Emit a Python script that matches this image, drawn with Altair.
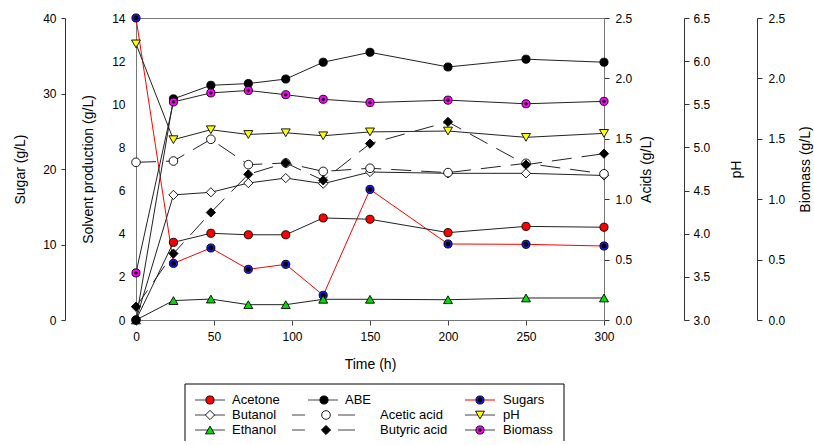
import altair as alt
import pandas as pd

# ---------------- data ----------------
times = [0, 24, 48, 72, 96, 120, 150, 200, 250, 300]

acetone = [0.0, 3.60, 4.02, 3.95, 3.95, 4.73, 4.67, 4.05, 4.34, 4.30]
butanol = [0.0, 5.80, 5.92, 6.35, 6.58, 6.32, 6.86, 6.80, 6.80, 6.70]
ethanol = [0.0, 0.90, 0.97, 0.71, 0.71, 0.96, 0.96, 0.94, 1.02, 1.02]
abe = [0.0, 10.25, 10.88, 10.96, 11.17, 11.95, 12.41, 11.73, 12.09, 11.95]

acetic_acid = [1.305, 1.316, 1.496, 1.286, 1.30, 1.23, 1.256, 1.22, 1.297, 1.21]
butyric_acid = [0.11, 0.55, 0.89, 1.206, 1.30, 1.156, 1.46, 1.64, 1.286, 1.377]

sugars = [40.0, 7.5, 9.54, 6.71, 7.37, 3.27, 17.3, 10.07, 10.02, 9.8]
ph = [6.20, 5.09, 5.205, 5.15, 5.17, 5.135, 5.18, 5.19, 5.117, 5.163]
biomass = [0.39, 1.805, 1.88, 1.90, 1.865, 1.827, 1.80, 1.82, 1.79, 1.81]

series_values = {
    "Acetone": acetone,
    "Butanol": butanol,
    "Ethanol": ethanol,
    "ABE": abe,
    "Acetic acid": acetic_acid,
    "Butyric acid": butyric_acid,
    "Sugars": sugars,
    "pH": ph,
    "Biomass": biomass,
}

rows = []
for name, vals in series_values.items():
    for t, v in zip(times, vals):
        rows.append({"time": t, "series": name, "value": v})
df = pd.DataFrame(rows)

# ---------------- styles ----------------
FONT = "Liberation Sans"
PAD_L, PAD_T = 13, 11
PLOT_W, PLOT_H = 468, 302
ORIGIN_X = 134  # page x of the plot area's left edge (legend is aligned to it)

style = {
    "Acetone": dict(shape="circle", fill="#ff0000", size=66),
    "Butanol": dict(shape="diamond", fill="#ffffff", size=85),
    "Ethanol": dict(shape="triangle-up", fill="#00dd00", size=80),
    "ABE": dict(shape="circle", fill="#000000", size=66),
    "Acetic acid": dict(shape="circle", fill="#ffffff", size=75),
    "Butyric acid": dict(shape="diamond", fill="#000000", size=85),
    "Sugars": dict(shape="circle", fill="#1a1aff", size=66),
    "pH": dict(shape="triangle-down", fill="#ffff00", size=80),
    "Biomass": dict(shape="circle", fill="#ff00ff", size=66),
}
inner_dot = {"Sugars": 20, "Biomass": 8}
line_color = {"Sugars": "#ff0000"}
dashed = {"Acetic acid", "Butyric acid"}

x_enc = alt.X(
    "time:Q",
    scale=alt.Scale(domain=[0, 300], nice=False, zero=False),
    axis=alt.Axis(values=[0, 50, 100, 150, 200, 250, 300], title="Time (h)",
                  tickSize=5, labelPadding=6, titlePadding=15, labelFlush=False,
                  domainColor="#777", tickColor="#444"),
)


def group(series_list, y_enc):
    lines, points = [], []
    for s in series_list:
        base = alt.Chart(df).transform_filter(alt.datum.series == s)
        kw = dict(color=line_color.get(s, "#222222"), strokeWidth=1)
        if s in dashed:
            kw["strokeDash"] = [20, 10]
        lines.append(base.mark_line(**kw).encode(x=x_enc, y=y_enc))
        st = style[s]
        points.append(base.mark_point(shape=st["shape"], size=st["size"], filled=True,
                                      fill=st["fill"], stroke="#000000", strokeWidth=0.9,
                                      opacity=1).encode(x=x_enc, y=y_enc))
        if s in inner_dot:
            points.append(base.mark_point(shape="circle", size=inner_dot[s], filled=True,
                                          fill="#000000", stroke="#000000", strokeWidth=0.5,
                                          opacity=1).encode(x=x_enc, y=y_enc))
    return alt.layer(*lines, *points)


y_solvent = alt.Y("value:Q", scale=alt.Scale(domain=[0, 14], nice=False),
                  axis=alt.Axis(orient="left", values=[0, 2, 4, 6, 8, 10, 12, 14],
                                title="Solvent production (g/L)", ticks=False, tickSize=0,
                                labelPadding=11, titlePadding=16, domainColor="#777"))
y_sugar = alt.Y("value:Q", scale=alt.Scale(domain=[0, 40], nice=False),
                axis=alt.Axis(orient="left", offset=71, values=[0, 10, 20, 30, 40],
                              title="Sugar (g/L)", tickSize=4, labelPadding=5, titlePadding=15))
y_acids = alt.Y("value:Q", scale=alt.Scale(domain=[0, 2.5], nice=False),
                axis=alt.Axis(orient="right", values=[0, 0.5, 1, 1.5, 2, 2.5], format=".1f",
                              title="Acids (g/L)", tickSize=5, labelPadding=6, titlePadding=8,
                              titleAngle=270, titleBaseline="top", domainColor="#777"))
y_ph = alt.Y("value:Q", scale=alt.Scale(domain=[3, 6.5], nice=False, zero=False),
             axis=alt.Axis(orient="right", offset=80, values=[3, 3.5, 4, 4.5, 5, 5.5, 6, 6.5],
                           format=".1f", title="pH", tickSize=5, labelPadding=4,
                           titlePadding=20, titleAngle=270, titleBaseline="top"))
y_bio = alt.Y("value:Q", scale=alt.Scale(domain=[0, 2.5], nice=False),
              axis=alt.Axis(orient="right", offset=153, values=[0, 0.5, 1, 1.5, 2, 2.5],
                            format=".1f", title="Biomass (g/L)", tickSize=5, labelPadding=6,
                            titlePadding=14, titleAngle=270, titleBaseline="top"))

main = alt.layer(
    group(["Sugars"], y_sugar),
    group(["Acetone", "Butanol", "Ethanol", "ABE"], y_solvent),
    group(["Acetic acid", "Butyric acid"], y_acids),
    group(["pH"], y_ph),
    group(["Biomass"], y_bio),
).resolve_scale(y="independent").properties(
    width=PLOT_W, height=PLOT_H, view=alt.ViewBackground(stroke="#777", strokeWidth=1)
)

# ---------------- legend (layout in page pixels, converted to local) ----------------
LEG_W, LEG_H = 440, 57
BOX_X0, BOX_X1 = 183, 562
leg_series = ["Acetone", "Butanol", "Ethanol", "ABE", "Acetic acid", "Butyric acid",
              "Sugars", "pH", "Biomass"]
leg_labels = ["Acetone", "Butanol", "Ethanol", "ABE", "Acetic acid", "Butyric acid",
              "Sugars", " pH", "Biomass"]
row_y = [16, 31, 46]
col_line = [(193, 223), (306, 336), (463, 493)]
col_marker = [208, 322, 478]
col_text = [230, 343, 501]
acid_segs = [(290, 303), (336, 353)]
acid_marker, acid_text = 324, 378

seg_rows, mark_rows, text_rows = [], [], []
for i, s in enumerate(leg_series):
    r, c = i % 3, i // 3
    y = row_y[r]
    if s in dashed:
        segs, mx, tx = acid_segs, acid_marker, acid_text
    else:
        segs, mx, tx = [col_line[c]], col_marker[c], col_text[c]
    for a, b in segs:
        seg_rows.append({"x": a - ORIGIN_X, "x2": b - ORIGIN_X, "y": y,
                         "color": line_color.get(s, "#444444")})
    mark_rows.append({"x": mx - ORIGIN_X, "y": y, "series": s})
    text_rows.append({"x": tx - ORIGIN_X, "y": y, "label": leg_labels[i]})

box_rows = [
    {"x": BOX_X0 - ORIGIN_X, "x2": BOX_X1 - ORIGIN_X, "y": 0, "y2": 0},
    {"x": BOX_X0 - ORIGIN_X, "x2": BOX_X0 - ORIGIN_X, "y": 0, "y2": LEG_H},
    {"x": BOX_X1 - ORIGIN_X, "x2": BOX_X1 - ORIGIN_X, "y": 0, "y2": LEG_H},
]

lx = alt.X("x:Q", scale=alt.Scale(domain=[0, LEG_W], nice=False), axis=None)
ly = alt.Y("y:Q", scale=alt.Scale(domain=[0, LEG_H], nice=False, reverse=True), axis=None)

seg_df = pd.DataFrame(seg_rows)
mark_df = pd.DataFrame(mark_rows)
text_df = pd.DataFrame(text_rows)
box_df = pd.DataFrame(box_rows)

leg_layers = [
    alt.Chart(box_df).mark_rule(color="#000000", strokeWidth=1).encode(
        x=lx, x2="x2:Q", y=ly, y2="y2:Q"),
    alt.Chart(seg_df).mark_rule(strokeWidth=1).encode(
        x=lx, x2="x2:Q", y=ly, color=alt.Color("color:N", scale=None)),
]
for s in leg_series:
    st = style[s]
    sub = alt.Chart(mark_df).transform_filter(alt.datum.series == s)
    leg_layers.append(sub.mark_point(shape=st["shape"], size=st["size"], filled=True,
                                     fill=st["fill"], stroke="#000000", strokeWidth=0.9,
                                     opacity=1).encode(x=lx, y=ly))
    if s in inner_dot:
        leg_layers.append(sub.mark_point(shape="circle", size=inner_dot[s], filled=True,
                                         fill="#000000", stroke="#000000", strokeWidth=0.5,
                                         opacity=1).encode(x=lx, y=ly))
leg_layers.append(alt.Chart(text_df).mark_text(align="left", baseline="middle", font=FONT,
                                               fontSize=13, color="#000000").encode(
    x=lx, y=ly, text="label:N"))

legend = alt.layer(*leg_layers).properties(
    width=LEG_W, height=LEG_H, view=alt.ViewBackground(stroke=None)
)

chart = alt.vconcat(main, legend, spacing=11).properties(
    padding={"left": PAD_L, "top": PAD_T, "right": 0, "bottom": 0}
).configure_axis(
    labelFont=FONT, titleFont=FONT, labelFontSize=12, titleFontSize=14,
    titleFontWeight="normal", labelColor="#000000", titleColor="#000000",
    domainColor="#333333", tickColor="#333333", grid=False,
).configure_view(stroke=None)

chart.save("out.html", embed_options={"renderer": "svg", "actions": False})
